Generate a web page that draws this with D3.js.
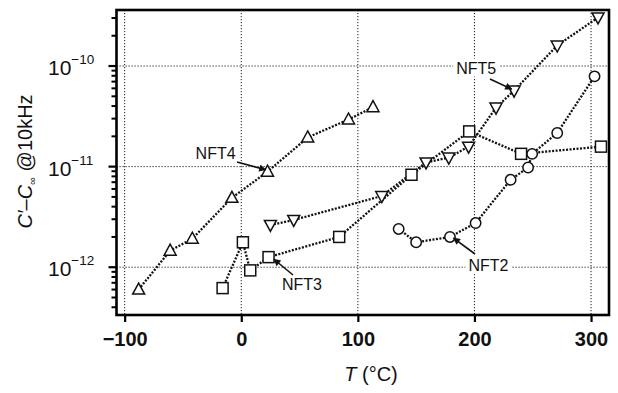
<!DOCTYPE html>
<html>
<head>
<meta charset="utf-8">
<script src="https://d3js.org/d3.v7.min.js"></script>
<style>
  body { margin: 0; background: #fff; }
  svg { display: block; font-family: "Liberation Sans", Arial, sans-serif; }
</style>
</head>
<body>
<svg id="chart" width="618" height="393"></svg>
<script>
// data: temperature (°C) and C' - C_inf (F)
var nft4T = [-88, -61, -42, -8, 22.5, 57, 92, 113];
var nft4V = [6.0e-13, 1.46e-12, 1.92e-12, 4.9e-12, 8.9e-12, 1.95e-11, 2.94e-11, 3.9e-11];

var nft5T = [25, 45, 120.5, 158.5, 178, 195, 218.5, 234, 271, 306];
var nft5V = [2.63e-12, 2.95e-12, 5.1e-12, 1.1e-11, 1.23e-11, 1.58e-11, 3.86e-11, 5.7e-11, 1.6e-10, 3.04e-10];

var nft3T = [-16, 1.4, 7.7, 23.4, 84, 146, 195.5, 240, 308.5];
var nft3V = [6.2e-13, 1.77e-12, 9.3e-13, 1.26e-12, 2.0e-12, 8.3e-12, 2.24e-11, 1.34e-11, 1.58e-11];

var nft2T = [135, 150, 179, 201, 231, 246, 249.5, 271, 303];
var nft2V = [2.4e-12, 1.77e-12, 2.0e-12, 2.75e-12, 7.4e-12, 9.8e-12, 1.34e-11, 2.16e-11, 7.9e-11];

var xTicks = [-100, 0, 100, 200, 300];
var yTicks = [1e-12, 1e-11, 1e-10];
var yTickExp = ["\u221212", "\u221211", "\u221210"];

// name, label centre (data), arrow tip (data)
var labels = [
  { name: "NFT4", T: -22, v: 1.38e-11, tipT: 21, tipV: 9.3e-12 },
  { name: "NFT5", T: 201.5, v: 9.66e-11, tipT: 232, tipV: 5.9e-11 },
  { name: "NFT3", T: 52, v: 6.8e-13, tipT: 28, tipV: 1.2e-12 },
  { name: "NFT2", T: 212, v: 1.05e-12, tipT: 182, tipV: 1.95e-12 }
];

var svg = d3.select("#chart");
var pL = 116.5, pR = 609, pT = 10, pB = 315;

var x = d3.scaleLinear().domain([-107, 315.4]).range([pL, pR]);
var y = d3.scaleLog().domain([Math.pow(10, -12.475), Math.pow(10, -9.443)]).range([pB, pT]);

// grid
var grid = svg.append("g").attr("stroke", "#000").attr("stroke-width", 0.9).attr("stroke-dasharray", "1.2,1.8");
grid.selectAll(".gx").data(xTicks).enter().append("line")
  .attr("x1", function(d) { return x(d); }).attr("x2", function(d) { return x(d); })
  .attr("y1", pT).attr("y2", pB);
grid.selectAll(".gy").data(yTicks).enter().append("line")
  .attr("y1", function(d) { return y(d); }).attr("y2", function(d) { return y(d); })
  .attr("x1", pL).attr("x2", pR);

// axes
var xAxis = d3.axisBottom(x).tickValues(xTicks).tickSize(7).tickFormat(function(d) { return d < 0 ? "\u2212" + (-d) : d; });
var gx = svg.append("g").attr("transform", "translate(0," + pB + ")").call(xAxis);
gx.select(".domain").remove();
gx.selectAll(".tick line").attr("stroke-width", 2.2);
gx.selectAll(".tick text").attr("font-size", 20).attr("font-weight", "bold").attr("fill", "#111")
  .attr("font-family", "'Liberation Sans', Arial, sans-serif").attr("dy", "1.05em");

// y ticks: majors plus 2..9 minors
var minor = [];
[-13, -12, -11, -10].forEach(function(e) {
  for (var k = 2; k <= 9; k++) minor.push(k * Math.pow(10, e));
});
minor = minor.filter(function(d) { return d >= y.domain()[0] && d <= y.domain()[1]; });
svg.append("g").selectAll("line").data(minor).enter().append("line")
  .attr("x1", pL - 5).attr("x2", pL)
  .attr("y1", function(d) { return y(d); }).attr("y2", function(d) { return y(d); })
  .attr("stroke", "#000").attr("stroke-width", 2);
svg.append("g").selectAll("line").data(yTicks).enter().append("line")
  .attr("x1", pL - 8).attr("x2", pL)
  .attr("y1", function(d) { return y(d); }).attr("y2", function(d) { return y(d); })
  .attr("stroke", "#000").attr("stroke-width", 2.2);
var yl = svg.append("g").selectAll("text").data(yTicks).enter().append("text")
  .attr("x", 48).attr("y", function(d) { return y(d) + 9; })
  .attr("font-size", 21).attr("fill", "#111");
yl.append("tspan").text("10");
yl.append("tspan").attr("dy", -11).attr("font-size", 13.5).text(function(d, i) { return yTickExp[i]; });

// series
var line = d3.line().x(function(d) { return x(d[0]); }).y(function(d) { return y(d[1]); });
function zip(a, b) { return a.map(function(t, i) { return [t, b[i]]; }); }
var series = [
  { pts: zip(nft4T, nft4V), shape: "up" },
  { pts: zip(nft5T, nft5V), shape: "down" },
  { pts: zip(nft3T, nft3V), shape: "square" },
  { pts: zip(nft2T, nft2V), shape: "circle" }
];
series.forEach(function(s) {
  svg.append("path").datum(s.pts).attr("d", line)
    .attr("fill", "none").attr("stroke", "#111").attr("stroke-width", 2.3).attr("stroke-dasharray", "2,1.5");
});
series.forEach(function(s) {
  var g = svg.append("g").attr("fill", "#fff").attr("stroke", "#111").attr("stroke-width", 1.5);
  s.pts.forEach(function(p) {
    var cx = x(p[0]), cy = y(p[1]);
    if (s.shape === "circle") {
      g.append("circle").attr("cx", cx).attr("cy", cy).attr("r", 5.2);
    } else if (s.shape === "square") {
      g.append("rect").attr("x", cx - 5.5).attr("y", cy - 5.5).attr("width", 11).attr("height", 11);
    } else if (s.shape === "up") {
      g.append("path").attr("d", "M" + cx + "," + (cy - 6.5) + "L" + (cx + 6) + "," + (cy + 4.5) + "L" + (cx - 6) + "," + (cy + 4.5) + "Z");
    } else {
      g.append("path").attr("d", "M" + cx + "," + (cy + 6.5) + "L" + (cx + 6) + "," + (cy - 4.5) + "L" + (cx - 6) + "," + (cy - 4.5) + "Z");
    }
  });
});

// labels with arrows
svg.append("defs").append("marker").attr("id", "ah").attr("viewBox", "0 0 10 10")
  .attr("refX", 9).attr("refY", 5).attr("markerWidth", 6).attr("markerHeight", 4.5).attr("orient", "auto")
  .append("path").attr("d", "M0,0L10,5L0,10Z").attr("fill", "#111");
labels.forEach(function(l) {
  var lx = x(l.T), ly = y(l.v);
  svg.append("rect").attr("x", lx - 23).attr("y", ly - 9).attr("width", 46).attr("height", 18).attr("fill", "#fff");
  svg.append("text").attr("x", lx).attr("y", ly + 6).attr("text-anchor", "middle")
    .attr("font-size", 16).attr("fill", "#111").text(l.name);
});
var arrowStart = [[237, 162], [490, 79], [293, 275], [475, 254]];
labels.forEach(function(l, i) {
  svg.append("line").attr("x1", arrowStart[i][0]).attr("y1", arrowStart[i][1])
    .attr("x2", x(l.tipT)).attr("y2", y(l.tipV))
    .attr("stroke", "#111").attr("stroke-width", 1.6).attr("marker-end", "url(#ah)");
});

// frame
svg.append("rect").attr("x", pL).attr("y", pT).attr("width", pR - pL).attr("height", pB - pT)
  .attr("fill", "none").attr("stroke", "#000").attr("stroke-width", 2.6);

// axis titles
var xt = svg.append("text").attr("x", 371).attr("y", 381).attr("text-anchor", "middle").attr("font-size", 20).attr("fill", "#111");
xt.append("tspan").attr("font-style", "italic").text("T");
xt.append("tspan").text(" (\u00B0C)");
var yt = svg.append("text").attr("transform", "translate(32,161.5) rotate(-90)").attr("text-anchor", "middle")
  .attr("font-size", 20).attr("fill", "#111");
yt.append("tspan").attr("font-style", "italic").text("C\u2032");
yt.append("tspan").text("\u2013");
yt.append("tspan").attr("font-style", "italic").text("C");
yt.append("tspan").attr("font-size", 11).attr("dy", 4).text("\u221E");
yt.append("tspan").attr("dy", -4).text(" @10kHz");
</script>
</body>
</html>
